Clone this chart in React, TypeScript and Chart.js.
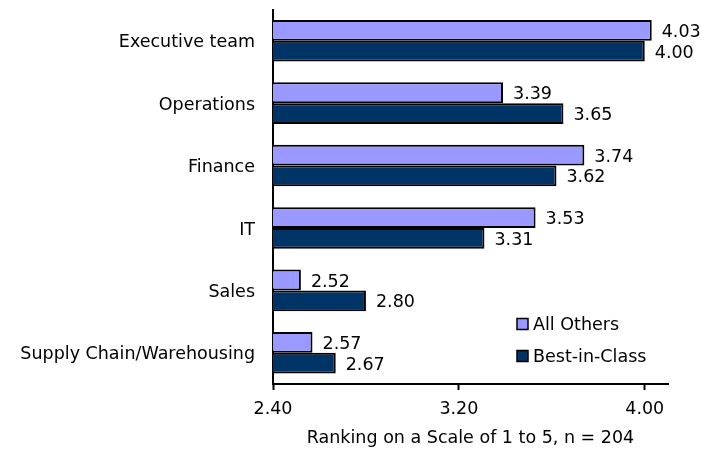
import React, { useEffect, useRef } from "react";
import { Chart, registerables } from "chart.js";

Chart.register(...registerables);

const categories = [
  "Executive team",
  "Operations",
  "Finance",
  "IT",
  "Sales",
  "Supply Chain/Warehousing",
];
const allOthers = [4.03, 3.39, 3.74, 3.53, 2.52, 2.57];
const bestInClass = [4.0, 3.65, 3.62, 3.31, 2.8, 2.67];
const seriesNames = ["All Others", "Best-in-Class"];
const seriesColors = ["#9999FF", "#003366"];
const xTicks = [2.4, 3.2, 4.0];
const xMin = 2.4;
const xMax = 4.1;
const xTitle = "Ranking on a Scale of 1 to 5, n = 204";

const FONT = "'DejaVu Sans', 'Liberation Sans', Arial, sans-serif";
const FS = 17.5;

const valueLabels = {
  id: "valueLabels",
  afterDatasetsDraw(chart: any) {
    const ctx = chart.ctx;
    ctx.save();
    ctx.font = `${FS}px ${FONT}`;
    ctx.fillStyle = "#000";
    ctx.textAlign = "left";
    ctx.textBaseline = "middle";
    chart.data.datasets.forEach((ds: any, di: number) => {
      const meta = chart.getDatasetMeta(di);
      meta.data.forEach((el: any, i: number) => {
        ctx.fillText(Number(ds.data[i]).toFixed(2), el.x + 10, el.y + 2);
      });
    });
    ctx.restore();
  },
};

const innerLegend = {
  id: "innerLegend",
  afterDraw(chart: any) {
    const ctx = chart.ctx;
    const area = chart.chartArea;
    ctx.save();
    ctx.font = `${FS}px ${FONT}`;
    ctx.textAlign = "left";
    ctx.textBaseline = "middle";
    chart.data.datasets.forEach((ds: any, i: number) => {
      const bx = area.right - 151;
      const cy = area.bottom - 60 + i * 32;
      ctx.fillStyle = ds.backgroundColor;
      ctx.fillRect(bx, cy - 5.5, 11, 11);
      ctx.strokeStyle = "#000";
      ctx.lineWidth = 1.5;
      ctx.strokeRect(bx, cy - 5.5, 11, 11);
      ctx.fillStyle = "#000";
      ctx.fillText(ds.label, bx + 16, cy + 1);
    });
    ctx.restore();
  },
};

export default function App() {
  const ref = useRef<HTMLCanvasElement>(null);
  useEffect(() => {
    if (!ref.current) return;
    const chart = new Chart(ref.current, {
      type: "bar",
      data: {
        labels: categories,
        datasets: [
          {
            label: seriesNames[0],
            data: allOthers,
            backgroundColor: seriesColors[0],
            borderColor: "#000",
            borderWidth: 2,
            borderSkipped: false,
            barPercentage: 1,
            categoryPercentage: 0.665,
          },
          {
            label: seriesNames[1],
            data: bestInClass,
            backgroundColor: seriesColors[1],
            borderColor: "#000",
            borderWidth: 2,
            borderSkipped: false,
            barPercentage: 1,
            categoryPercentage: 0.665,
          },
        ],
      },
      options: {
        indexAxis: "y",
        animation: false,
        responsive: false,
        devicePixelRatio: 1,
        layout: { padding: { top: 9.5, right: 33, left: 0, bottom: 0 } },
        plugins: {
          legend: { display: false },
          tooltip: { enabled: false },
        },
        scales: {
          x: {
            type: "linear",
            min: xMin,
            max: xMax,
            afterBuildTicks: (scale: any) => {
              scale.ticks = xTicks.map((v) => ({ value: v }));
            },
            afterFit: (scale: any) => {
              scale.height = 67;
              scale.paddingLeft = 0;
              scale.paddingRight = 0;
            },
            ticks: {
              color: "#000",
              font: { family: FONT, size: FS },
              padding: 9,
              maxRotation: 0,
              callback: (v: any) => Number(v).toFixed(2),
            },
            grid: {
              drawOnChartArea: false,
              drawTicks: true,
              tickLength: 6,
              tickWidth: 2,
              tickColor: "#000",
              color: "#000",
            },
            border: { display: true, color: "#000", width: 2 },
            title: {
              display: true,
              text: xTitle,
              color: "#000",
              font: { family: FONT, size: FS },
              padding: { top: 0, bottom: 2 },
            },
          },
          y: {
            type: "category",
            afterFit: (scale: any) => {
              scale.width = 273;
              scale.paddingTop = 0;
              scale.paddingBottom = 0;
            },
            ticks: {
              color: "#000",
              font: { family: FONT, size: FS },
              padding: 18,
              labelOffset: 2,
            },
            grid: { display: false, drawTicks: false },
            border: { display: true, color: "#000", width: 2 },
          },
        },
      },
      plugins: [valueLabels, innerLegend],
    } as any);
    return () => chart.destroy();
  }, []);
  return (
    <div style={{ position: "absolute", left: 0, top: 0, width: 701, height: 451, background: "#fff" }}>
      <canvas ref={ref} width={701} height={451} style={{ display: "block" }} />
    </div>
  );
}
